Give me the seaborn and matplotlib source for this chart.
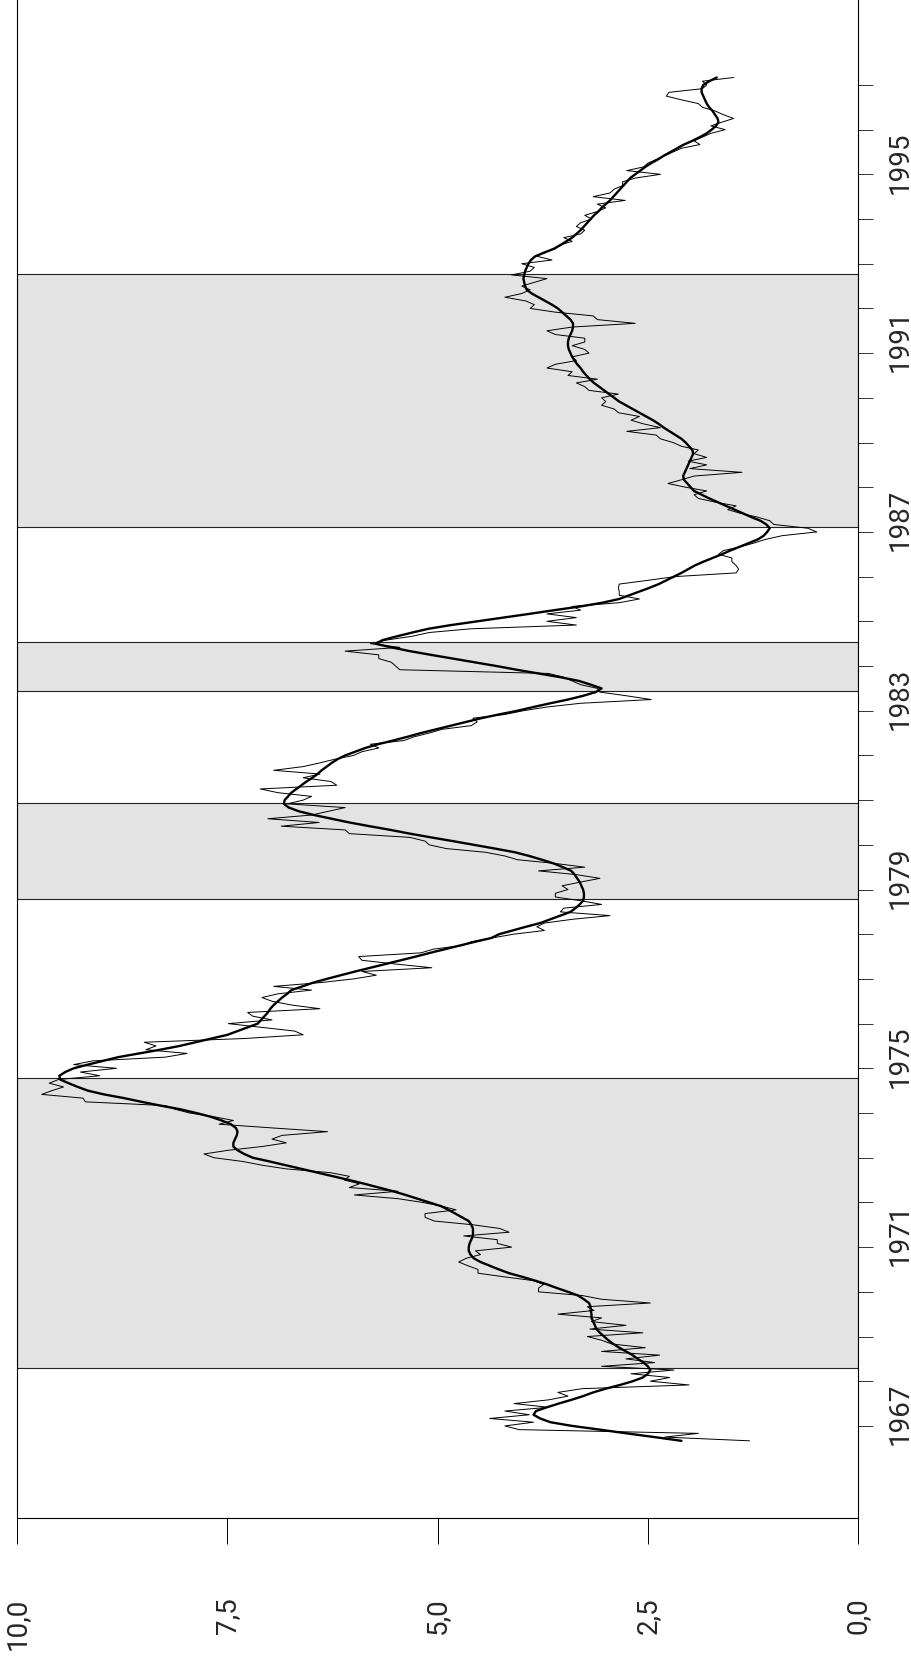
import numpy as np
import pandas as pd
import matplotlib
matplotlib.use("Agg")
import matplotlib.pyplot as plt
import seaborn as sns
from matplotlib.ticker import FixedLocator, FixedFormatter, NullFormatter

# monthly values, Sep 1966 .. Mar 1997 (one row per year)
raw = [
    1.29, 2.30, 1.90, 4.03,
    4.20, 3.86, 4.38, 3.91, 4.20, 3.68, 4.09, 3.68, 3.45, 3.57, 3.28, 2.01,
    2.47, 2.24, 2.70, 2.19, 3.05, 2.42, 2.76, 2.36, 3.05, 2.53, 2.93, 3.05,
    3.22, 2.56, 3.19, 2.76, 3.17, 3.05, 3.57, 3.14, 3.22, 2.47, 3.05, 3.28,
    3.80, 3.80, 3.74, 3.86, 4.20, 4.52, 4.52, 4.64, 4.75, 4.66, 4.49, 4.55,
    4.12, 4.29, 4.29, 4.69, 4.15, 4.26, 4.58, 5.04, 5.15, 5.15, 4.78, 4.95,
    5.18, 5.47, 5.99, 5.47, 6.05, 5.93, 6.11, 6.05, 6.28, 6.80, 7.09, 7.32,
    7.66, 7.78, 7.49, 7.09, 6.80, 6.97, 6.85, 6.31, 6.97, 7.60, 7.43, 7.66,
    7.95, 8.12, 8.24, 9.19, 9.22, 9.71, 9.59, 9.45, 9.62, 9.51, 9.02, 9.25,
    8.82, 9.33, 9.10, 8.24, 7.98, 8.47, 8.35, 8.49, 7.30, 6.60, 6.70, 7.10,
    7.49, 6.97, 7.20, 7.26, 6.40, 6.74, 6.97, 7.09, 6.90, 6.50, 6.95, 6.40,
    6.00, 5.73, 5.90, 5.07, 5.50, 5.90, 5.94, 5.20, 5.05, 4.70, 4.60, 4.35,
    4.10, 3.73, 3.82, 3.73, 3.40, 2.95, 3.54, 3.50, 3.05, 3.30, 3.60, 3.60,
    3.45, 3.52, 3.30, 3.07, 3.35, 3.80, 3.25, 3.60, 4.05, 4.20, 4.43, 4.90,
    5.10, 5.15, 5.33, 6.05, 6.10, 6.86, 6.41, 7.02, 6.50, 6.30, 6.10, 6.79,
    6.60, 6.50, 6.90, 7.11, 6.20, 6.27, 6.60, 6.40, 6.95, 6.60, 6.40, 6.22,
    6.00, 5.90, 5.70, 5.80, 5.40, 5.28, 5.10, 4.95, 4.60, 4.53, 4.58, 4.20,
    3.98, 3.70, 3.30, 2.46, 2.75, 3.07, 3.10, 3.30, 3.40, 3.50, 3.68, 5.45,
    5.50, 5.55, 5.70, 5.70, 6.10, 5.45, 5.80, 5.60, 5.30, 5.10, 4.60, 3.35,
    3.70, 3.35, 3.70, 3.30, 3.40, 2.84, 2.60, 2.84, 2.84, 2.85, 2.84, 2.50,
    2.18, 1.45, 1.42, 1.45, 1.50, 1.50, 1.66, 1.60, 1.40, 1.24, 1.10, 0.90,
    0.49, 0.60, 1.00, 1.05, 1.20, 1.40, 1.55, 1.45, 1.70, 1.90, 1.95, 1.80,
    2.05, 2.26, 2.10, 1.95, 1.38, 2.00, 1.80, 2.02, 1.80, 1.95, 1.90, 2.10,
    2.20, 2.35, 2.40, 2.75, 2.35, 2.55, 2.70, 2.60, 2.85, 2.90, 3.05, 3.00,
    3.05, 2.85, 3.20, 3.25, 3.35, 3.10, 3.45, 3.40, 3.70, 3.60, 3.35, 3.40,
    3.20, 3.25, 3.40, 3.25, 3.25, 3.60, 3.70, 3.40, 2.65, 3.10, 3.15, 3.60,
    3.90, 3.85, 3.95, 4.20, 4.00, 3.90, 4.00, 3.85, 3.70, 4.12, 3.90, 3.85,
    4.00, 3.64, 3.82, 3.75, 3.60, 3.55, 3.40, 3.50, 3.30, 3.25, 3.35, 3.30,
    3.17, 3.25, 3.10, 3.00, 3.10, 2.77, 3.15, 2.95, 2.90, 2.80, 2.80, 2.65,
    2.35, 2.75, 2.55, 2.50, 2.40, 2.30, 2.20, 2.10, 1.88, 1.95, 1.85, 1.75,
    1.58, 1.75, 1.62, 1.48, 1.60, 1.70, 1.85, 1.90, 2.10, 2.28, 2.25, 1.85,
    1.80, 1.85, 1.48,
]

# smoothed trend, monthly, Sep 1966 .. Mar 1997
trend = [
    2.10, 2.42, 2.75, 3.07,
    3.40, 3.66, 3.78, 3.86, 3.83, 3.70, 3.56, 3.41, 3.27, 3.15, 3.00, 2.83,
    2.68, 2.56, 2.50, 2.47, 2.50, 2.55, 2.62, 2.68, 2.76, 2.84, 2.91, 2.97,
    3.02, 3.07, 3.11, 3.13, 3.15, 3.17, 3.17, 3.18, 3.18, 3.20, 3.26, 3.33,
    3.45, 3.58, 3.70, 3.84, 3.99, 4.15, 4.27, 4.38, 4.49, 4.57, 4.61, 4.63,
    4.63, 4.62, 4.60, 4.58, 4.58, 4.58, 4.60, 4.63, 4.71, 4.79, 4.87, 4.96,
    5.10, 5.24, 5.38, 5.53, 5.70, 5.87, 6.05, 6.24, 6.43, 6.62, 6.81, 7.00,
    7.20, 7.30, 7.38, 7.43, 7.43, 7.41, 7.39, 7.38, 7.40, 7.46, 7.57, 7.70,
    7.87, 8.06, 8.30, 8.52, 8.73, 8.97, 9.16, 9.28, 9.39, 9.49, 9.50, 9.43,
    9.33, 9.16, 8.98, 8.80, 8.55, 8.30, 8.07, 7.88, 7.69, 7.50, 7.38, 7.26,
    7.14, 7.10, 7.06, 7.02, 6.99, 6.95, 6.90, 6.85, 6.79, 6.74, 6.61, 6.48,
    6.32, 6.15, 5.98, 5.80, 5.62, 5.44, 5.26, 5.09, 4.91, 4.73, 4.55, 4.36,
    4.27, 4.11, 3.95, 3.78, 3.66, 3.54, 3.42, 3.36, 3.31, 3.27, 3.26, 3.26,
    3.27, 3.29, 3.31, 3.34, 3.37, 3.41, 3.51, 3.62, 3.76, 3.91, 4.08, 4.32,
    4.57, 4.82, 5.08, 5.33, 5.56, 5.81, 6.05, 6.26, 6.47, 6.65, 6.77, 6.83,
    6.82, 6.78, 6.74, 6.68, 6.62, 6.56, 6.49, 6.43, 6.38, 6.32, 6.26, 6.19,
    6.10, 5.98, 5.86, 5.71, 5.53, 5.36, 5.20, 5.02, 4.84, 4.66, 4.48, 4.27,
    4.05, 3.86, 3.66, 3.45, 3.27, 3.12, 3.05, 3.18, 3.32, 3.54, 3.80, 4.06,
    4.30, 4.56, 4.82, 5.08, 5.33, 5.55, 5.74, 5.65, 5.48, 5.30, 5.11, 4.84,
    4.53, 4.22, 3.91, 3.61, 3.30, 3.04, 2.84, 2.72, 2.60, 2.48, 2.37, 2.28,
    2.19, 2.10, 2.02, 1.94, 1.84, 1.73, 1.62, 1.52, 1.41, 1.30, 1.19, 1.12,
    1.08, 1.05, 1.09, 1.16, 1.27, 1.37, 1.47, 1.57, 1.67, 1.77, 1.86, 1.95,
    1.99, 2.03, 2.07, 2.08, 2.06, 2.04, 2.02, 2.00, 1.98, 1.96, 1.97, 2.01,
    2.05, 2.10, 2.17, 2.24, 2.31, 2.37, 2.44, 2.52, 2.60, 2.68, 2.76, 2.84,
    2.90, 2.96, 3.02, 3.08, 3.14, 3.19, 3.23, 3.27, 3.30, 3.34, 3.37, 3.40,
    3.42, 3.44, 3.45, 3.45, 3.44, 3.42, 3.40, 3.39, 3.39, 3.42, 3.47, 3.52,
    3.57, 3.64, 3.72, 3.80, 3.88, 3.94, 3.96, 3.97, 3.98, 3.97, 3.96, 3.94,
    3.92, 3.89, 3.84, 3.73, 3.62, 3.54, 3.47, 3.40, 3.35, 3.30, 3.26, 3.22,
    3.18, 3.14, 3.09, 3.05, 3.00, 2.95, 2.91, 2.87, 2.83, 2.79, 2.75, 2.71,
    2.65, 2.59, 2.53, 2.46, 2.38, 2.31, 2.23, 2.15, 2.07, 1.97, 1.88, 1.80,
    1.74, 1.69, 1.66, 1.67, 1.70, 1.73, 1.77, 1.80, 1.82, 1.84, 1.86, 1.86,
    1.84, 1.77, 1.68,
]

band_start = [1968.30, 1978.79, 1983.44, 1987.10]
band_end = [1974.78, 1980.94, 1984.53, 1992.77]

value_ticks = [0, 2.5, 5, 7.5, 10]
value_labels = ["0,0", "2,5", "5,0", "7,5", "10,0"]
year_labels = [1967, 1971, 1975, 1979, 1983, 1987, 1991, 1995]


def dec_year(d):
    return d.year + (d.month - 1) / 12


dates = pd.date_range("1966-09-01", periods=len(raw), freq="MS")
df = pd.DataFrame({"t": dec_year(dates), "raw": raw, "trend": trend})

sns.set_style("white")
plt.rcParams["font.family"] = ["Roboto", "DejaVu Sans"]

fig = plt.figure(figsize=(9.12, 16.77), dpi=100)
ax = fig.add_axes([17.3 / 912, 159 / 1677, (858 - 17.3) / 912, 1518 / 1677])

for a, b in zip(band_start, band_end):
    ax.axhspan(a, b, facecolor="#e3e3e3", edgecolor="#222222", lw=0.8, zorder=0)

sns.lineplot(data=df, x="raw", y="t", orient="y", estimator=None, sort=False,
             color="black", lw=0.7, ax=ax)
sns.lineplot(data=df, x="trend", y="t", orient="y", estimator=None, sort=False,
             color="black", lw=1.7, ax=ax)

ax.set_xlim(10, 0)
ax.set_ylim(1964.94, 1998.90)
ax.set_xlabel("")
ax.set_ylabel("")

# value axis (bottom)
ax.set_xticks(value_ticks)
ax.set_xticklabels(value_labels)
ax.tick_params(axis="x", which="major", direction="out", length=19, width=0.7,
               color="black", pad=38, labelsize=20, bottom=True)
plt.setp(ax.get_xticklabels(), rotation=90, ha="center", va="top")

# time axis (right)
ax.yaxis.tick_right()
ax.yaxis.set_major_locator(FixedLocator(list(range(1967, 1998))))
ax.yaxis.set_major_formatter(NullFormatter())
ax.yaxis.set_minor_locator(FixedLocator([y + 0.27 for y in year_labels]))
ax.yaxis.set_minor_formatter(FixedFormatter([str(y) for y in year_labels]))
ax.tick_params(axis="y", which="major", direction="out", length=10.5, width=0.7,
               color="#333333", left=False, right=True)
ax.tick_params(axis="y", which="minor", length=0, pad=21, labelsize=20,
               left=False, right=True, labelleft=False, labelright=True)
plt.setp(ax.get_yticklabels(minor=True), rotation=90, ha="left", va="center")

for side in ["left", "right", "bottom"]:
    ax.spines[side].set_color("black")
    ax.spines[side].set_linewidth(0.8)
ax.spines["top"].set_visible(False)

fig.savefig("out.png", dpi=100)
